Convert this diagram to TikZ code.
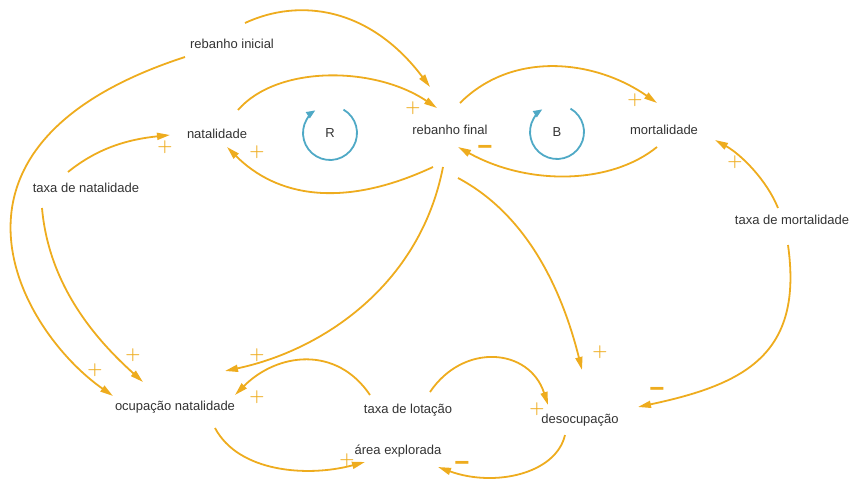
\documentclass[tikz,border=0pt]{standalone}
\usepackage{fontspec}
\setmainfont{Liberation Sans}
\usetikzlibrary{arrows.meta}

\begin{document}
\begin{tikzpicture}[x=1pt,y=1pt,font=\fontsize{13}{15}\selectfont,
  var/.style={text=dtext,inner sep=0pt},
  link/.style={draw=dlink,line width=1.8pt,-{Triangle[length=13pt,width=7pt]}},
  loopline/.style={draw=dloop,line width=1.8pt,-{Triangle[length=9pt,width=7pt]}},
  plus/.style={text=dlink,font=\boldmath\fontsize{19}{19}\selectfont,inner sep=0pt},
  minus/.style={text=dlink,font=\bfseries\fontsize{26}{26}\selectfont,inner sep=0pt}]
  \definecolor{dlink}{HTML}{EEAC1E}
  \definecolor{dloop}{HTML}{4FA9C6}
  \definecolor{dtext}{HTML}{333333}
  \path[use as bounding box] (0,0) rectangle (854,-487);

  % variables
  \node[var] (rinicial) at (232,-44)  {rebanho inicial};
  \node[var] (natal)    at (217,-134) {natalidade};
  \node[var] (rfinal)   at (450,-130) {rebanho final};
  \node[var] (mort)     at (664,-130) {mortalidade};
  \node[var] (tnatal)   at (86,-188)  {taxa de natalidade};
  \node[var] (tmort)    at (792,-220) {taxa de mortalidade};
  \node[var] (ocup)     at (175,-407) {ocupação natalidade};
  \node[var] (tlot)     at (408,-410) {taxa de lotação};
  \node[var] (desoc)    at (580,-420) {desocupação};
  \node[var] (area)     at (398,-451) {área explorada};

  % loop markers
  \node[var] (loopR) at (330,-133) {R};
  \node[var] (loopB) at (557,-132) {B};
  \foreach \lp in {loopR,loopB}{
    \draw[loopline] ([shift={(60:27)}]\lp.center)
      arc[start angle=60,end angle=-237,radius=27];
  }

  % causal links
  \foreach \src/\sx/\sy/\dst/\dx/\dy/\ao/\ai/\lo/\li in {
    rinicial/13/21/rfinal/-20/43/25/127/60pt/100pt,
    natal/21/24/rfinal/-13/22/49/146/60pt/75pt,
    rfinal/-17/-37/natal/10/-13/205/-45/100pt/70pt,
    rfinal/10/27/mort/-7/27/45/145/75pt/75pt,
    mort/-7/-17/rfinal/8/-17/219/-29/60pt/80pt,
    tnatal/-18/16/natal/-47/-1/39/186/40pt/40pt,
    tnatal/-44/-20/ocup/-32/25/-85/138/80pt/60pt,
    rinicial/-47/-13/ocup/-62/11/198/145/286pt/114pt,
    rfinal/-7/-37/ocup/50/36/259/12/120pt/100pt,
    tlot/-38/15/ocup/60/12/124/45/60pt/60pt,
    tlot/22/18/desoc/-32/15/56/108/60pt/60pt,
    rfinal/8/-48/desoc/2/50/-28/104/80pt/80pt,
    tmort/-14/12/mort/51/-10/112/-29/30pt/30pt,
    tmort/-4/-25/desoc/58/13/-82/12/110pt/110pt,
    ocup/40/-21/area/-33/-11/-62/195/50pt/60pt,
    desoc/-15/-15/area/40/-16/-103/-20/40pt/60pt
  }{
    \draw[link] ([shift={(\sx,\sy)}]\src.center)
      to[out=\ao,in=\ai,out distance=\lo,in distance=\li]
      ([shift={(\dx,\dy)}]\dst.center);
  }

  % polarities
  \foreach \x/\y [count=\i] in {413/-108,257/-152,635/-100,165/-147,133/-355,
    95/-370,257/-355,257/-397,537/-409,600/-352,735/-162,347/-460}{
    \node[plus] (p\i) at (\x,\y) {$+$};
  }
  \foreach \x/\y [count=\i] in {485/-150,657/-392,462/-466}{
    \node[minus] (m\i) at (\x,\y) {−};
  }
\end{tikzpicture}
\end{document}
